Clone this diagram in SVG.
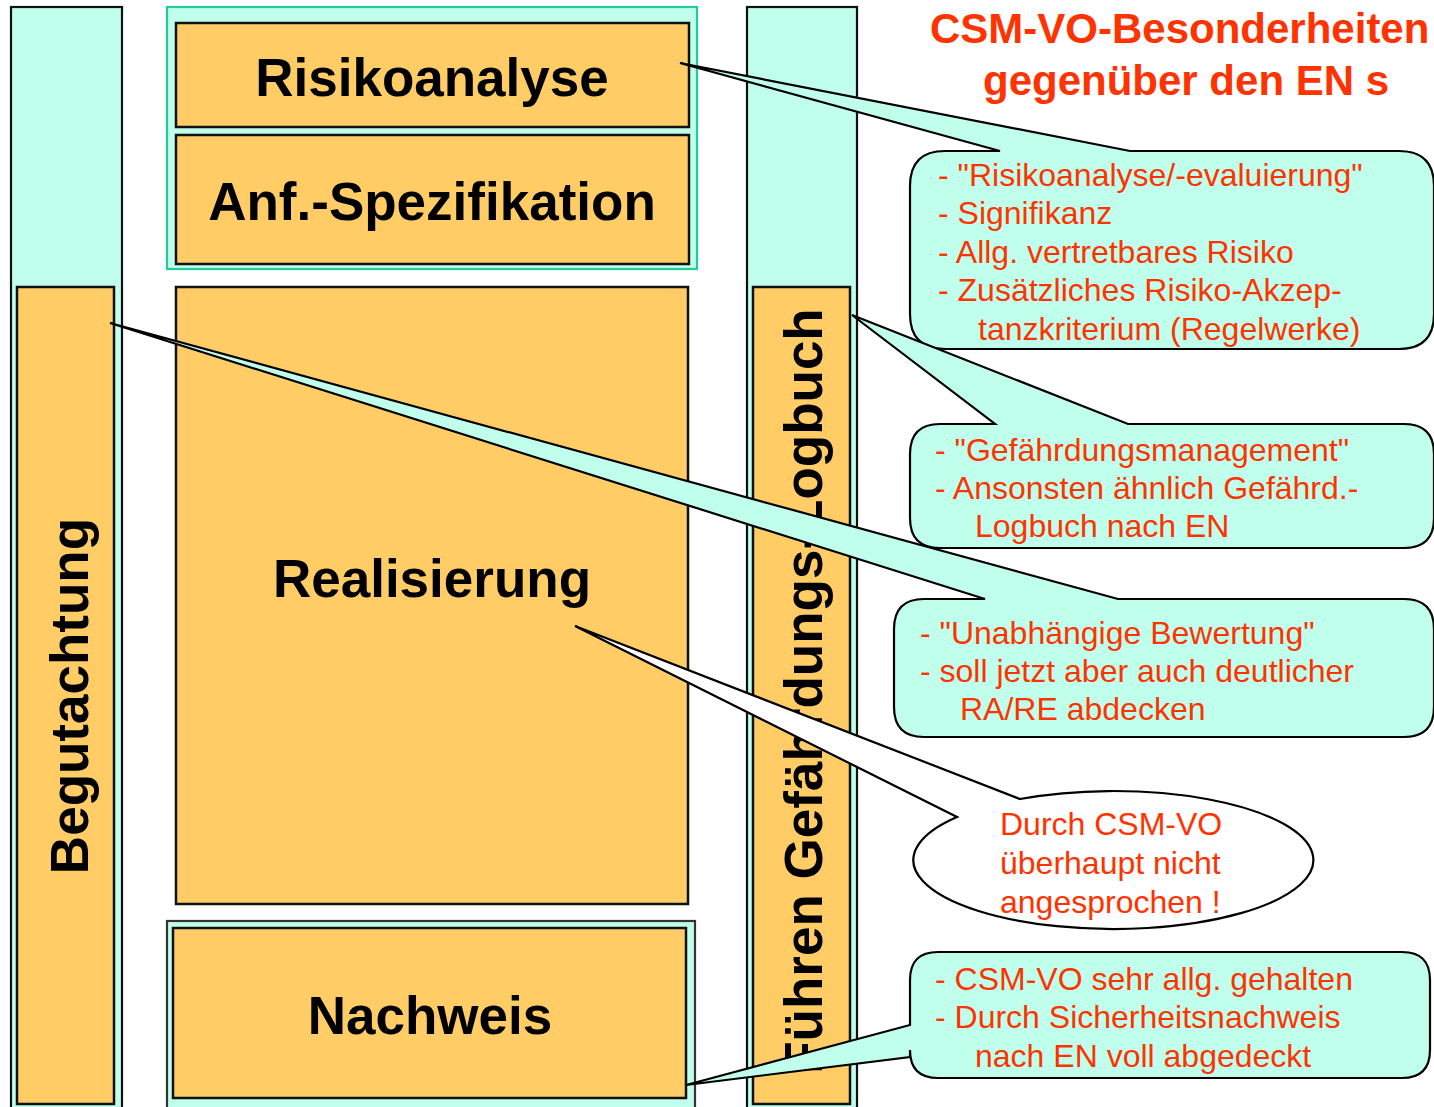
<svg xmlns="http://www.w3.org/2000/svg" width="1434" height="1107" viewBox="0 0 1434 1107">
<style>
.cy{fill:#C0FFEC;stroke:#111;stroke-width:2.2}
.or{fill:#FFCC66;stroke:#111;stroke-width:2.5}
.big{font-family:"Liberation Sans",Arial,sans-serif;font-weight:bold;font-size:53px;fill:#000}
.co{fill:#C0FFEC;stroke:#000;stroke-width:2.2;stroke-linejoin:miter}
.ct{font-family:"Liberation Sans",Arial,sans-serif;font-size:32px;fill:#FF3300}
.ti{font-family:"Liberation Sans",Arial,sans-serif;font-weight:bold;font-size:42px;fill:#FF3300}
</style>
<rect width="1434" height="1107" fill="#fff"/>
<g id="col-left">
<rect class="cy" x="11" y="7" width="111" height="1110"/>
</g>
<g id="begutachtung">
<rect class="or" x="17" y="287" width="97" height="817"/>
<text class="big" text-anchor="middle" transform="translate(88,696) rotate(-90)">Begutachtung</text>
</g>
<g id="group-top">
<rect x="167" y="7" width="530" height="262" fill="#C0FFEC" stroke="#22CC99" stroke-width="2.2"/>
</g>
<g id="risikoanalyse">
<rect class="or" x="176" y="23" width="513" height="104"/>
<text class="big" x="432" y="96" text-anchor="middle">Risikoanalyse</text>
</g>
<g id="anf-spezifikation">
<rect class="or" x="176" y="135" width="513" height="129"/>
<text class="big" x="432" y="220" text-anchor="middle">Anf.-Spezifikation</text>
</g>
<g id="realisierung">
<rect class="or" x="176" y="287" width="512" height="617"/>
<text class="big" x="432" y="597" text-anchor="middle">Realisierung</text>
</g>
<g id="nachweis">
<rect class="cy" x="167" y="921" width="528" height="196" style="stroke:#333"/>
<rect class="or" x="173" y="928" width="513" height="170"/>
<text class="big" x="430" y="1034" text-anchor="middle">Nachweis</text>
</g>
<g id="col-right">
<rect class="cy" x="747" y="7" width="110" height="1110"/>
</g>
<g id="gefaehrdungs-logbuch">
<rect class="or" x="753" y="287" width="97" height="817"/>
<text class="big" text-anchor="middle" transform="translate(822,691) rotate(-90)">Führen Gefährdungs-Logbuch</text>
</g>
<g id="title">
<text class="ti" x="930" y="43">CSM-VO-Besonderheiten</text>
<text class="ti" x="983" y="95">gegenüber den EN s</text>
</g>
<g id="connectors">
<path id="callout-1" class="co" d="M945,151 L1000,151 L680,63 L1130,151 L1399,151 Q1434,151 1434,186 L1434,314 Q1434,349 1399,349 L945,349 Q910,349 910,314 L910,186 Q910,151 945,151 Z"/>
<path id="callout-2" class="co" d="M940,424 L995,424 L852,315 L1128,424 L1404,424 Q1434,424 1434,454 L1434,518 Q1434,548 1404,548 L940,548 Q910,548 910,518 L910,454 Q910,424 940,424 Z"/>
<path id="callout-3" class="co" d="M924,599 L985,599 L110,323 L1118,599 L1404,599 Q1434,599 1434,629 L1434,707 Q1434,737 1404,737 L924,737 Q894,737 894,707 L894,629 Q894,599 924,599 Z"/>
<path id="callout-4" d="M1020,799 A200,69 0 1,1 957,817 L575,626 Z" fill="#fff" stroke="#000" stroke-width="2.2"/>
<path id="callout-5" class="co" d="M938,952 L1402,952 Q1430,952 1430,980 L1430,1050 Q1430,1078 1402,1078 L938,1078 Q910,1078 910,1050 L910,1057 L686,1085 L910,1025 L910,980 Q910,952 938,952 Z"/>
</g>
<g id="callout-texts">
<text class="ct" x="938" y="186">- "Risikoanalyse/-evaluierung"</text>
<text class="ct" x="938" y="224">- Signifikanz</text>
<text class="ct" x="938" y="263">- Allg. vertretbares Risiko</text>
<text class="ct" x="938" y="301">- Zusätzliches Risiko-Akzep-</text>
<text class="ct" x="978" y="340">tanzkriterium (Regelwerke)</text>
<text class="ct" x="935" y="461">- "Gefährdungsmanagement"</text>
<text class="ct" x="935" y="499">- Ansonsten ähnlich Gefährd.-</text>
<text class="ct" x="975" y="537">Logbuch nach EN</text>
<text class="ct" x="920" y="644">- "Unabhängige Bewertung"</text>
<text class="ct" x="920" y="682">- soll jetzt aber auch deutlicher</text>
<text class="ct" x="960" y="720">RA/RE abdecken</text>
<text class="ct" x="1000" y="835">Durch CSM-VO</text>
<text class="ct" x="1000" y="874">überhaupt nicht</text>
<text class="ct" x="1000" y="913">angesprochen !</text>
<text class="ct" x="935" y="990">- CSM-VO sehr allg. gehalten</text>
<text class="ct" x="935" y="1028">- Durch Sicherheitsnachweis</text>
<text class="ct" x="975" y="1067">nach EN voll abgedeckt</text>
</g>
</svg>
